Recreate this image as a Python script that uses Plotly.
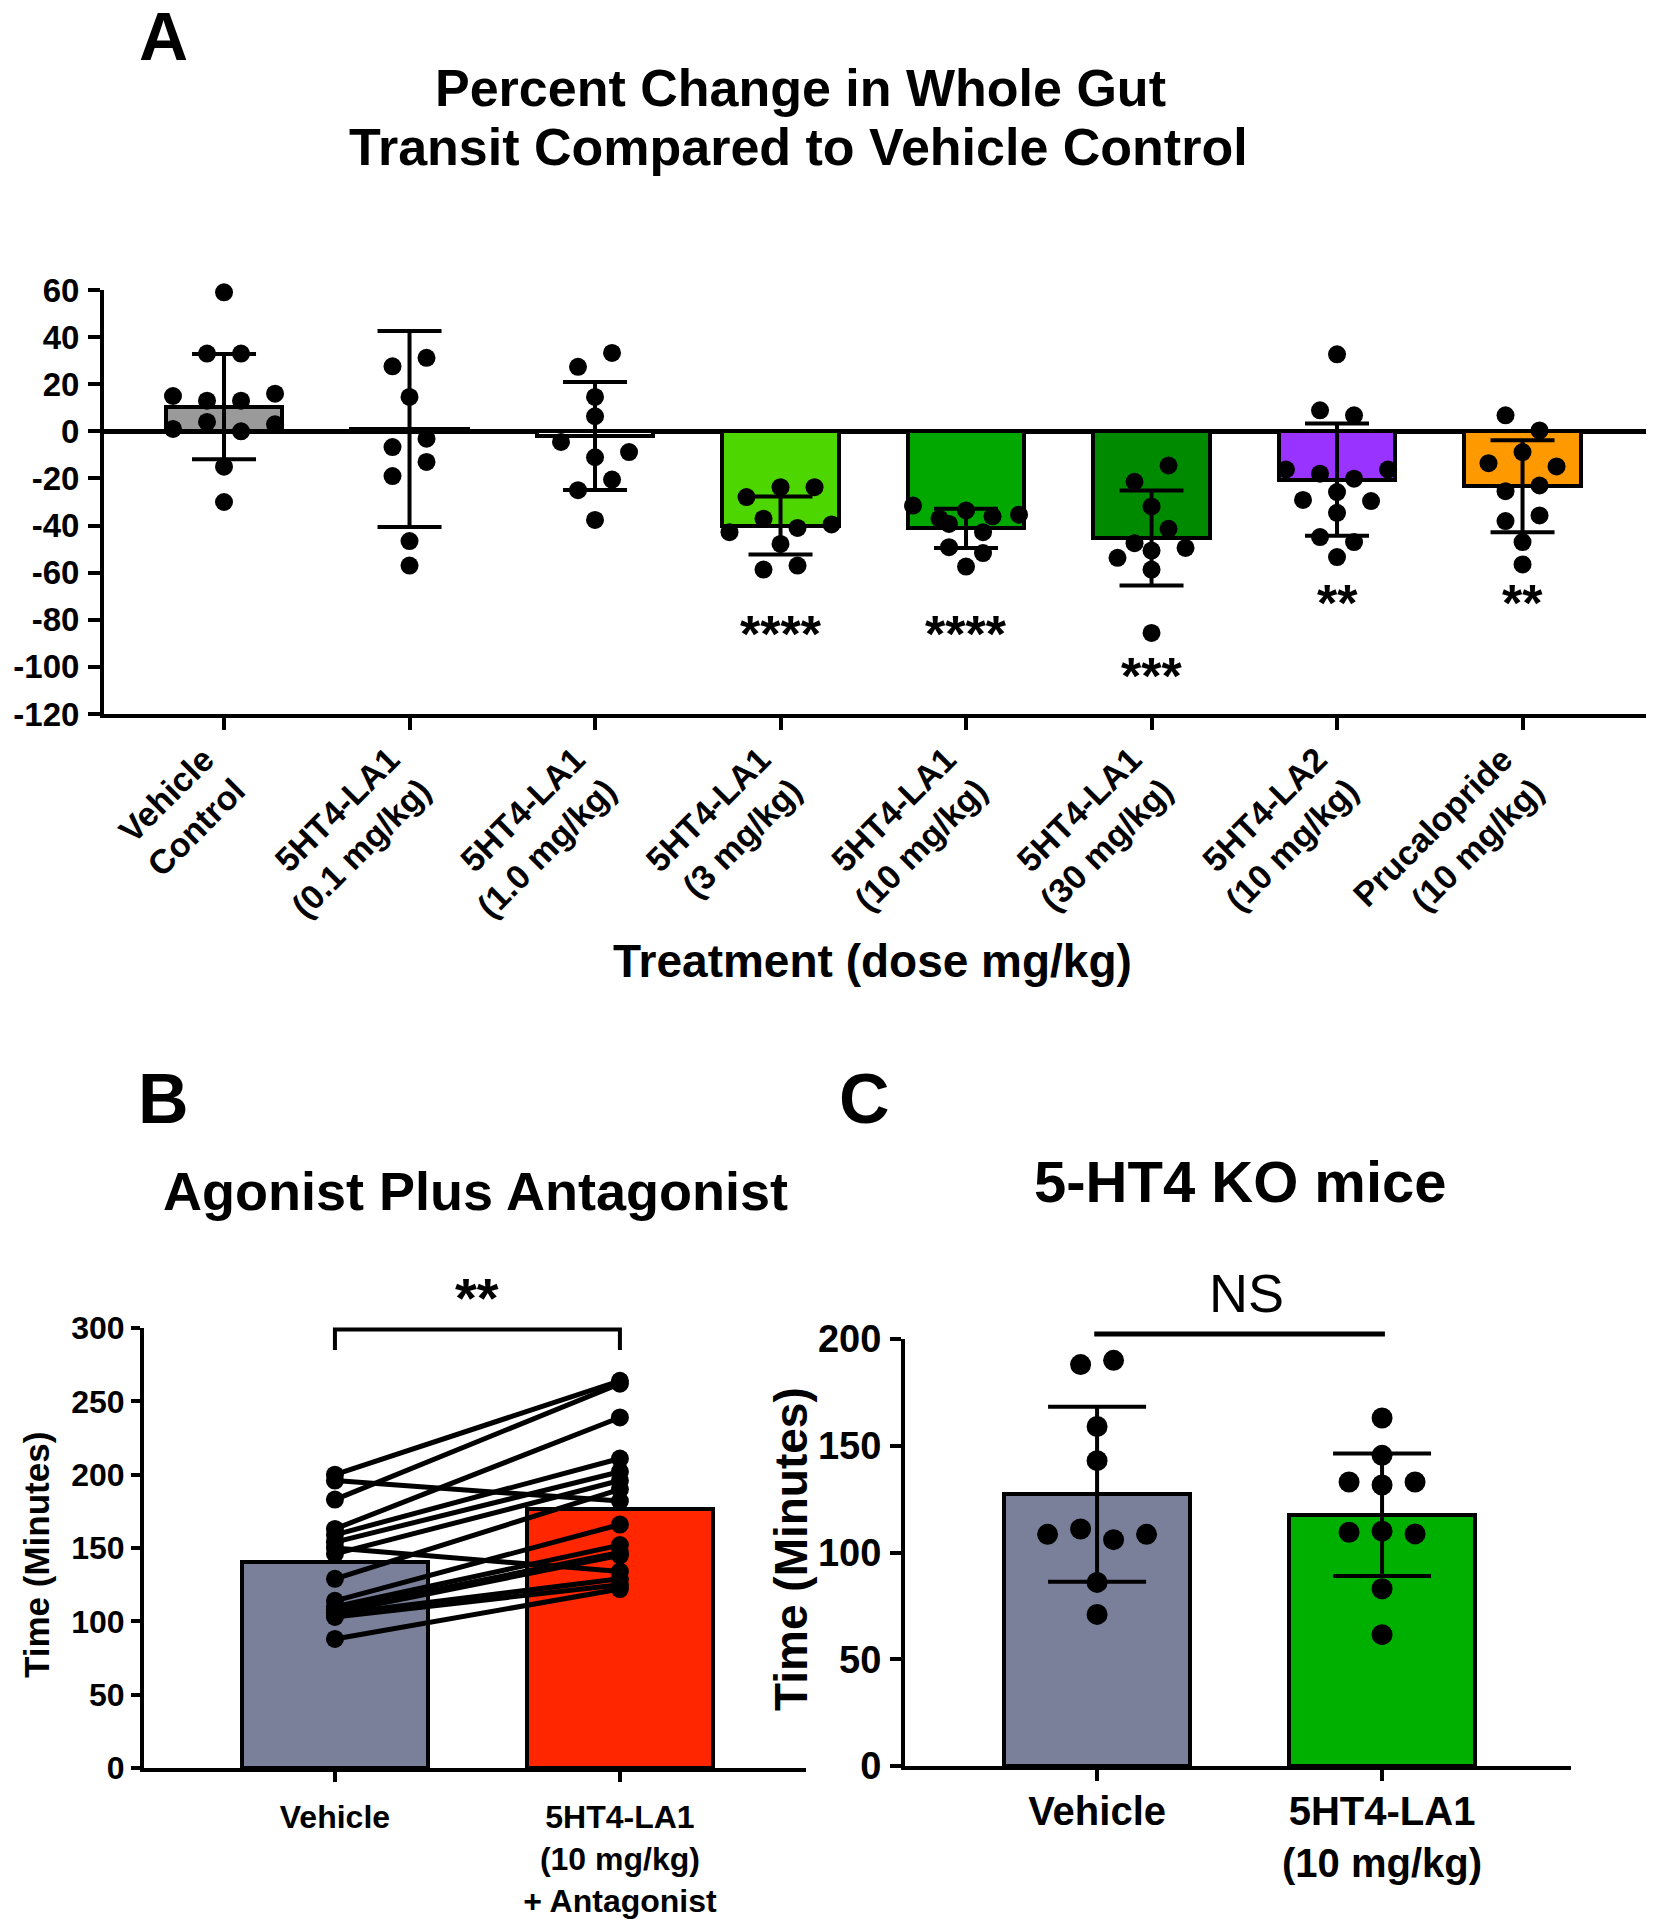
import plotly.graph_objects as go

FONT = "Liberation Sans, Arial, Helvetica, sans-serif"
PAGE_W, PAGE_H = 1654, 1920
BODY_MARGIN = 8
W, H = PAGE_W - BODY_MARGIN, PAGE_H - BODY_MARGIN

# ---------------- Panel A data ----------------
a_labels = ["Vehicle<br>Control", "5HT4-LA1<br>(0.1 mg/kg)", "5HT4-LA1<br>(1.0 mg/kg)",
            "5HT4-LA1<br>(3 mg/kg)", "5HT4-LA1<br>(10 mg/kg)", "5HT4-LA1<br>(30 mg/kg)",
            "5HT4-LA2<br>(10 mg/kg)", "Prucalopride<br>(10 mg/kg)"]
a_yticks = [60, 40, 20, 0, -20, -40, -60, -80, -100, -120]
a_means = [10.5, 1.0, -2.0, -40.0, -41.2, -45.3, -20.5, -23.3]
a_sds = [22.3, 41.6, 22.9, 12.3, 8.3, 20.2, 23.8, 19.5]
a_colors = ["#9A9A9A", "#FFFFFF", "#FFFFFF", "#4DD600", "#00A800", "#008A00", "#9933FF", "#FF9900"]
a_vehicle = [59, 33, 33, 15, 13, 13, 16, 1, 4, 0, 3, -15, -30]
a_la1_01 = [27.6, 31.2, 14.6, -6.7, -3.1, -19, -13, -46.6, -57]
a_la1_1 = [27.4, 33.3, 14.6, 6.4, -4.5, -11, -8.8, -25, -20.5, -37.6]
a_la1_3 = [-27.9, -23.7, -23.7, -42.8, -37.1, -41, -39.5, -47.8, -58.7, -57]
a_la1_10 = [-31.5, -37.1, -33.6, -36.1, -35.4, -39.3, -42.8, -49.2, -51.7, -57.4]
a_la1_30 = [-21.4, -14.5, -31.9, -47.5, -41.4, -53.7, -50.6, -49.5, -58.7, -85.6]
a_la2 = [32.7, 8.9, 6.8, -16.2, -18, -20.1, -16.2, -29.1, -25.8, -29.6, -34.6, -44.9, -47, -53.4]
a_pruc = [6.8, 0.4, -13.5, -8.8, -14.9, -25.4, -23, -38.1, -35.7, -47, -56.5]
a_points = [a_vehicle, a_la1_01, a_la1_1, a_la1_3, a_la1_10, a_la1_30, a_la2, a_pruc]
a_stars = ["", "", "", "****", "****", "***", "**", "**"]

# ---------------- Panel B data ----------------
b_labels = ["Vehicle", "5HT4-LA1<br>(10 mg/kg)<br>+ Antagonist"]
b_means = [140.4, 176.5]
b_colors = ["#7A8099", "#FF2600"]
b_vehicle = [200, 196, 183, 163, 159, 154, 150, 146, 129, 114, 110, 108, 106, 105, 103, 88]
b_agonist_antagonist = [264, 182, 262, 239, 211, 202, 134, 196, 190, 166, 152, 147, 145, 129, 125, 122]

# ---------------- Panel C data ----------------
c_labels = ["Vehicle", "5HT4-LA1<br>(10 mg/kg)"]
c_means = [127.3, 117.7]
c_sds = [41.0, 28.7]
c_colors = ["#7A8099", "#00B000"]
c_vehicle = [188, 190, 159, 143, 108.5, 111, 106, 108.5, 86, 71]
c_la1 = [163, 145.5, 133, 131.6, 133, 109.5, 110, 108.7, 83, 61.5]
c_points = [c_vehicle, c_la1]


def swarm(vals, row_h, step, max_span):
    """Row-based beeswarm offsets (GraphPad-like)."""
    order = sorted(range(len(vals)), key=lambda i: -vals[i])
    rows = []
    for i in order:
        if rows and rows[-1][0] - vals[i] <= row_h:
            rows[-1][1].append(i)
        else:
            rows.append([vals[i], [i]])
    off = [0.0] * len(vals)
    for _, members in rows:
        members.sort()
        n = len(members)
        st = step if n < 2 else min(step, max_span / (n - 1))
        for k, i in enumerate(members):
            off[i] = (k - (n - 1) / 2) * st
    return off


def px(x):
    return (x - BODY_MARGIN) / W


def py(y):
    return 1 - (y - BODY_MARGIN) / H


fig = go.Figure()

# ---- Panel A ----
fig.add_trace(go.Bar(x=list(range(len(a_means))), y=a_means, width=0.63,
                     marker=dict(color=a_colors, line=dict(color="black", width=4)),
                     xaxis="x", yaxis="y"))
fig.add_trace(go.Scatter(x=list(range(len(a_means))), y=a_means, mode="markers",
                         marker=dict(size=1, color="rgba(0,0,0,0)"),
                         error_y=dict(type="data", array=a_sds, visible=True, color="black",
                                      thickness=4, width=32),
                         xaxis="x", yaxis="y"))
ax, ay = [], []
for gi, vals in enumerate(a_points):
    offs = swarm(vals, 7.0, 34 / 185.4, 106 / 185.4)
    for v, o in zip(vals, offs):
        ax.append(gi + o)
        ay.append(v)
fig.add_trace(go.Scatter(x=ax, y=ay, mode="markers", marker=dict(size=18, color="black"),
                         cliponaxis=False, xaxis="x", yaxis="y"))

# ---- Panel B ----
fig.add_trace(go.Bar(x=[0, 1], y=b_means, width=0.65,
                     marker=dict(color=b_colors, line=dict(color="black", width=4)),
                     xaxis="x2", yaxis="y2"))
bx, by = [], []
for v0, v1 in zip(b_vehicle, b_agonist_antagonist):
    bx += [0, 1, None]
    by += [v0, v1, None]
fig.add_trace(go.Scatter(x=bx, y=by, mode="lines+markers",
                         line=dict(color="black", width=5),
                         marker=dict(size=18, color="black"), cliponaxis=False,
                         xaxis="x2", yaxis="y2"))

# ---- Panel C ----
fig.add_trace(go.Bar(x=[0, 1], y=c_means, width=0.65,
                     marker=dict(color=c_colors, line=dict(color="black", width=4)),
                     xaxis="x3", yaxis="y3"))
fig.add_trace(go.Scatter(x=[0, 1], y=c_means, mode="markers",
                         marker=dict(size=1, color="rgba(0,0,0,0)"),
                         error_y=dict(type="data", array=c_sds, visible=True, color="black",
                                      thickness=4, width=49),
                         xaxis="x3", yaxis="y3"))
cx, cy = [], []
for gi, vals in enumerate(c_points):
    offs = swarm(vals, 9.4, 33 / 285, 110 / 285)
    for v, o in zip(vals, offs):
        cx.append(gi + o)
        cy.append(v)
fig.add_trace(go.Scatter(x=cx, y=cy, mode="markers", marker=dict(size=21, color="black"),
                         cliponaxis=False, xaxis="x3", yaxis="y3"))


def tf(size, bold=True):
    d = dict(family=FONT, size=size, color="black")
    if bold:
        d["weight"] = "bold"
    return d


axis_common = dict(showgrid=False, showline=True, linecolor="black", linewidth=4,
                   ticks="outside", tickcolor="black", tickwidth=4, fixedrange=True,
                   automargin=False)

fig.update_layout(
    width=W, height=H, margin=dict(l=0, r=0, t=0, b=0, pad=0, autoexpand=False),
    paper_bgcolor="white", plot_bgcolor="white", showlegend=False, bargap=0,
    xaxis=dict(domain=[px(104), px(1647)], range=[-0.647, 7.671], anchor="y",
               tickvals=list(range(8)), ticktext=a_labels, tickangle=-45, ticklen=12,
               tickfont=tf(34), zeroline=False, ticklabelstandoff=-4, ticklabelshift=-20,
               **axis_common),
    yaxis=dict(domain=[py(714), py(290)], range=[-120, 60], anchor="x",
               tickvals=a_yticks, ticktext=[str(v) for v in a_yticks],
               ticklen=12, tickfont=tf(33), zeroline=True, zerolinecolor="black",
               zerolinewidth=5, ticklabelstandoff=2, **axis_common),
    xaxis2=dict(domain=[px(144), px(806)], range=[-0.67, 1.653], anchor="y2",
                tickvals=[0, 1], ticktext=b_labels, ticklen=10, tickfont=tf(32),
                zeroline=False, tickangle=0, ticklabelstandoff=8, **axis_common),
    yaxis2=dict(domain=[py(1768), py(1328)], range=[0, 300], dtick=50, anchor="x2",
                ticklen=9, tickfont=tf(32), zeroline=False, ticklabelstandoff=0, **axis_common),
    xaxis3=dict(domain=[px(905), px(1571)], range=[-0.674, 1.663], anchor="y3",
                tickvals=[0, 1], ticktext=c_labels, ticklen=11, tickfont=tf(40),
                zeroline=False, tickangle=0, ticklabelstandoff=-4, **axis_common),
    yaxis3=dict(domain=[py(1766), py(1339)], range=[0, 200], dtick=50, anchor="x3",
                ticklen=11, tickfont=tf(38), zeroline=False, ticklabelstandoff=1, **axis_common),
)

ann = []
# panel letters and titles
ann.append(dict(text="A", x=px(163), y=py(36), font=tf(68)))
ann.append(dict(text="Percent Change in Whole Gut", x=px(800), y=py(88), font=tf(52)))
ann.append(dict(text="Transit Compared to Vehicle Control", x=px(798), y=py(147), font=tf(52)))
ann.append(dict(text="Treatment (dose mg/kg)", x=px(873), y=py(961), font=tf(46)))
ann.append(dict(text="B", x=px(163), y=py(1099), font=tf(70)))
ann.append(dict(text="C", x=px(864), y=py(1099), font=tf(70)))
ann.append(dict(text="Agonist Plus Antagonist", x=px(476), y=py(1191), font=tf(54)))
ann.append(dict(text="5-HT4 KO mice", x=px(1240), y=py(1181), font=tf(58)))
ann.append(dict(text="Time (Minutes)", x=px(36), y=py(1555), font=tf(35), textangle=-90))
ann.append(dict(text="Time (Minutes)", x=px(791), y=py(1549), font=tf(46), textangle=-90))
for a in ann:
    a.update(xref="paper", yref="paper", showarrow=False, xanchor="center", yanchor="middle")

star_y = {"****": -86, "***": -104, "**": -73}
for i, s in enumerate(a_stars):
    if s:
        ann.append(dict(text=s, x=i, y=star_y[s], xref="x", yref="y", showarrow=False,
                        xanchor="center", yanchor="middle", font=tf(52)))
ann.append(dict(text="**", x=0.5, y=320.5 / 300, xref="x2", yref="y2 domain", showarrow=False,
                xanchor="center", yanchor="middle", font=tf(56)))
ann.append(dict(text="NS", x=0.523, y=221.5 / 200, xref="x3", yref="y3 domain", showarrow=False,
                xanchor="center", yanchor="middle", font=tf(54, bold=False)))
fig.update_layout(annotations=ann)

# significance bracket (B) and NS line (C)
b_bracket_top, b_bracket_leg = 299, 285
fig.add_shape(type="path", xref="x2", yref="y2 domain",
              path=f"M 0,{b_bracket_leg/300} L 0,{b_bracket_top/300} L 1,{b_bracket_top/300} L 1,{b_bracket_leg/300}",
              line=dict(color="black", width=4))
ns_y = 202.3
fig.add_shape(type="line", xref="x3", yref="y3 domain", x0=-0.01, x1=1.01,
              y0=ns_y / 200, y1=ns_y / 200, line=dict(color="black", width=5))

fig.write_html("out.html")
